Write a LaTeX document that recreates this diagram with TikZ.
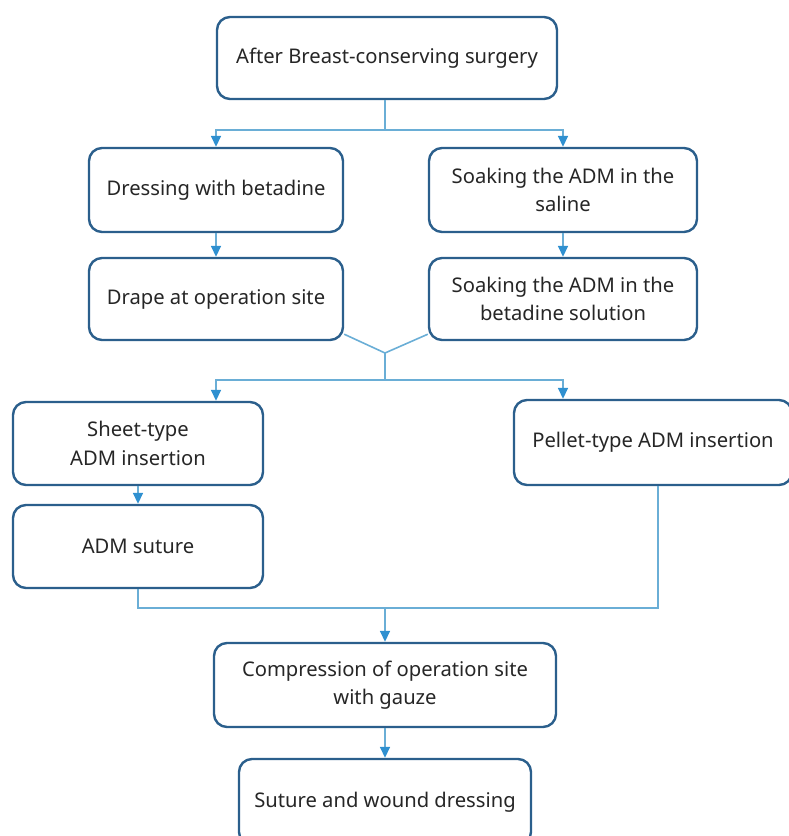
\documentclass[tikz,border=0pt]{standalone}
\usepackage{fontspec}
\setmainfont{Noto Sans}
\usetikzlibrary{arrows.meta}
\definecolor{boxblue}{HTML}{2B5F8C}
\definecolor{linkblue}{HTML}{6AAED6}
\definecolor{tipblue}{HTML}{2F90D0}
\tikzset{
  stepbox/.style={draw=boxblue, line width=2.4pt, rounded corners=13pt, fill=white,
    align=center, inner sep=0pt, text=black!85, font=\fontsize{20.2}{28.5}\selectfont},
  link/.style={draw=linkblue, line width=1.6pt},
  arr/.style={link, -{Triangle[width=10pt,length=11pt,fill=tipblue,color=tipblue]}}
}
\begin{document}
\begin{tikzpicture}[x=1pt,y=-1pt]
\useasboundingbox (0,0) rectangle (788,836);
% boxes: corners given in px, y downward
\newcommand{\mkbox}[6]{% name, x1, y1, x2, y2, text
  \node[stepbox, minimum width={#4-#2}, minimum height={#5-#3}] (#1) at ({(#2+#4)/2},{(#3+#5)/2}) {#6};}
\mkbox{top}{217}{17}{557}{99}{After Breast-conserving surgery}
\mkbox{dress}{89}{148}{343}{232}{Dressing with betadine}
\mkbox{drape}{89}{258}{343}{340}{Drape at operation site}
\mkbox{saline}{429}{148}{697}{232}{Soaking the ADM in the\\saline}
\mkbox{betad}{429}{258}{697}{340}{Soaking the ADM in the\\betadine solution}
\mkbox{sheet}{13}{402}{263}{485}{Sheet-type\\ADM insertion}
\mkbox{adms}{13}{505}{263}{588}{ADM suture}
\mkbox{pellet}{514}{400}{792}{485}{Pellet-type ADM insertion}
\mkbox{comp}{214}{643}{556}{727}{Compression of operation site\\with gauze}
\mkbox{final}{239}{759}{531}{845}{Suture and wound dressing}
% junctions
\coordinate (j1) at (385,130);
\coordinate (m) at (385,353);
\coordinate (j2) at (385,380);
\coordinate (j3) at (385,608);
% connectors
\draw[link] (top.south -| j1) -- (j1);
\draw[arr] (j1) -| (dress.north);
\draw[arr] (j1) -| (saline.north);
\draw[arr] (dress.south) -- (drape.north);
\draw[arr] (saline.south) -- (betad.north);
\draw[link] ([yshift=7pt]drape.south east) -- (m);
\draw[link] ([yshift=7pt]betad.south west) -- (m);
\draw[link] (m) -- (j2);
\draw[arr] (j2) -| (dress.south |- sheet.north);
\draw[arr] (j2) -| (saline.south |- pellet.north);
\draw[arr] (sheet.south) -- (adms.north);
\draw[link] (adms.south) -- (adms.south |- j3) -| ([xshift=5pt]pellet.south);
\draw[arr] (j3) -- (comp.north);
\draw[arr] (comp.south) -- (final.north);
\end{tikzpicture}
\end{document}
